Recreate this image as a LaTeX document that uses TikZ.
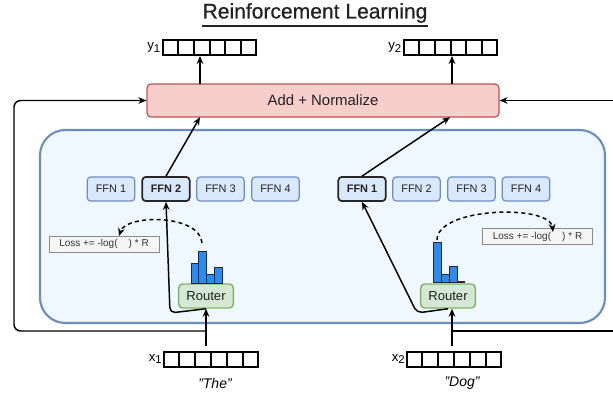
\documentclass[tikz,border=0pt]{standalone}
\usepackage{fontspec}
\setmainfont{Liberation Sans}
\newfontfamily\titlefont[FakeBold=0.6]{Liberation Sans}
\usetikzlibrary{arrows.meta,calc}
\definecolor{moefill}{HTML}{EEF8FE}
\definecolor{moeline}{HTML}{6C8EBF}
\definecolor{ffnfill}{HTML}{DAE8FC}
\definecolor{addfill}{HTML}{F8CECC}
\definecolor{addline}{HTML}{B85450}
\definecolor{rtfill}{HTML}{D5E8D4}
\definecolor{rtline}{HTML}{82B366}
\definecolor{lossfill}{HTML}{F5F5F5}
\definecolor{lossline}{HTML}{8A8A8A}
\definecolor{barblue}{HTML}{2A8CF2}
\definecolor{txt}{HTML}{222222}
\tikzset{
  conn/.style={line width=1.1pt, draw=black},
  arr/.style={conn, -{Stealth[length=6pt,width=5pt]}},
  dasharr/.style={line width=1.1pt, dash pattern=on 3pt off 2.5pt, -{Stealth[length=6pt,width=5pt]}},
  ffn/.style={draw=moeline, fill=ffnfill, line width=0.9pt, rounded corners=2.5pt,
    minimum width=35.5pt, minimum height=18pt, inner sep=0pt, text=txt,
    font=\fontsize{8.2}{9.8}\selectfont},
  ffnsel/.style={ffn, draw=black!85, line width=1.3pt, font=\fontsize{8.2}{9.8}\selectfont\bfseries},
  router/.style={draw=rtline, fill=rtfill, line width=1.1pt, rounded corners=3pt,
    minimum width=41pt, minimum height=18pt, inner sep=0pt, text=txt,
    font=\fontsize{9.8}{11}\selectfont},
  lossbox/.style={draw=lossline, fill=lossfill, line width=0.7pt,
    minimum width=82.5pt, minimum height=12pt, inner sep=0pt, text=black!80,
    font=\fontsize{7.5}{8.5}\selectfont},
  vecbox/.style={draw=black, line width=1.5pt, minimum width=70pt, minimum height=11.25pt, inner sep=0pt},
  veclab/.style={font=\fontsize{10}{12}\selectfont, inner sep=1pt},
  word/.style={font=\fontsize{10.5}{12}\selectfont\itshape},
  bar/.style={fill=barblue, draw=black!85, line width=0.6pt}
}
\newcommand{\vecdiv}[1]{%
  \foreach \i in {1,...,5}{%
    \draw[line width=1.5pt] ($(#1.south west)!\i/6!(#1.south east)$) -- ($(#1.north west)!\i/6!(#1.north east)$);}}
\begin{document}
\begin{tikzpicture}[x=0.75pt,y=-0.75pt]
\useasboundingbox (0,0) rectangle (613,394);

% title
\node[inner sep=0pt, text=txt] (title) at (315,13) {\titlefont\fontsize{15.8}{18}\selectfont Reinforcement Learning};
\draw[line width=1.1pt, txt] ([yshift=-2.2pt]title.south west) -- ([yshift=-2.2pt]title.south east);

% container
\node[draw=moeline, fill=moefill, line width=1.6pt, rounded corners=19pt,
      minimum width=423.75pt, minimum height=144.75pt] (moe) at (322.5,226.5) {};

% add + normalize
\node[draw=addline, fill=addfill, line width=0.9pt, rounded corners=3pt,
      minimum width=264pt, minimum height=24.75pt, text=txt,
      font=\fontsize{11.2}{13}\selectfont] (add) at (323,100.5) {Add + Normalize};

% output vectors
\node[vecbox] (y1v) at (209.5,47.5) {};
\node[vecbox] (y2v) at (450.5,47.5) {};
\vecdiv{y1v}\vecdiv{y2v}
\node[veclab, anchor=east] (y1l) at (y1v.west) {y\raisebox{-0.35ex}{\fontsize{8.5}{9}\selectfont 1}};
\node[veclab, anchor=east] (y2l) at (y2v.west) {y\raisebox{-0.35ex}{\fontsize{8.5}{9}\selectfont 2}};

% input vectors
\node[vecbox] (x1v) at (211,359) {};
\node[vecbox] (x2v) at (454,359) {};
\vecdiv{x1v}\vecdiv{x2v}
\node[veclab, anchor=east] (x1l) at (x1v.west) {x\raisebox{-0.35ex}{\fontsize{8.5}{9}\selectfont 1}};
\node[veclab, anchor=east] (x2l) at (x2v.west) {x\raisebox{-0.35ex}{\fontsize{8.5}{9}\selectfont 2}};
\node[word] (the) at (215,383) {"The"};
\node[word] (dog) at (462,383) {"Dog"};

% FFN experts
\node[ffn]    (l1) at (111,189) {FFN 1};
\node[ffnsel] (l2) at (166,189) {FFN 2};
\node[ffn]    (l3) at (220.5,189) {FFN 3};
\node[ffn]    (l4) at (275.5,189) {FFN 4};
\node[ffnsel] (r1) at (362,189) {FFN 1};
\node[ffn]    (r2) at (416.5,189) {FFN 2};
\node[ffn]    (r3) at (471.5,189) {FFN 3};
\node[ffn]    (r4) at (526,189) {FFN 4};

% routers
\node[router] (rl) at (206,296) {Router};
\node[router] (rr) at (448,296) {Router};

% loss boxes
\node[lossbox] (lossl) at (104,244) {Loss += -log(\ \ \ \ ) * R};
\node[lossbox, minimum width=83pt, minimum height=12.5pt] (lossr) at (537.5,236.5) {Loss += -log(\ \ \ \ ) * R};

% histograms
\draw[bar] (191,283) rectangle (198,263);
\draw[bar] (198,283) rectangle (206,251);
\draw[bar] (206,283) rectangle (214,274);
\draw[bar] (214,283) rectangle (222,267);
\draw[bar] (433,282) rectangle (441,242);
\draw[bar] (441,282) rectangle (449,274);
\draw[bar] (449,282) rectangle (457,266);
\draw[line width=0.8pt, black!85] (457,282) -- (465,282);

% dashed gradient arrows
\coordinate (dl0) at (202,243);
\coordinate (dl1) at (119,236);
\coordinate (dr0) at (437,240);
\coordinate (dr1) at (553,232);
\draw[dasharr] (dl0) .. controls (200,214) and (126,214) .. (dl1);
\draw[dasharr] (dr0) .. controls (437,207) and (550,204) .. (dr1);

% input arrows
\coordinate (inl) at (206,346);
\coordinate (inr) at (452,346);
\draw[arr] (inl) -- (inl |- rl.south);
\draw[arr] (inr) -- (inr |- rr.south);

% routing arrows
\coordinate (bl) at (170,313);
\coordinate (br) at (417,313);
\draw[arr, rounded corners=4pt] (rl.south) -- (bl) -- (l2.south);
\draw[arr, rounded corners=4pt] (rr.south) -- (br) -- (r1.south);

% expert outputs to add
\coordinate (al) at (200,117.2);
\coordinate (ar) at (450,117.2);
\draw[arr] (l2.north) -- (al);
\draw[arr] (r1.north) -- (ar);

% add to outputs
\coordinate (ol) at (200,83.8);
\coordinate (or) at (452,83.8);
\draw[arr] (ol) -- (ol |- y1v.south);
\draw[arr] (or) -- (or |- y2v.south);

% residual lines
\coordinate (sl) at (206,331);
\coordinate (slc) at (14,331);
\coordinate (slt) at (14,100.5);
\draw[arr, rounded corners=5pt] (sl) -- (slc) -- (slt) -- (add.west);
\coordinate (sr) at (452,331);
\coordinate (sre) at (614,331);
\coordinate (srt) at (614,100.5);
\draw[conn] (sr) -- (sre);
\draw[arr] (srt) -- (add.east);
\end{tikzpicture}
\end{document}
